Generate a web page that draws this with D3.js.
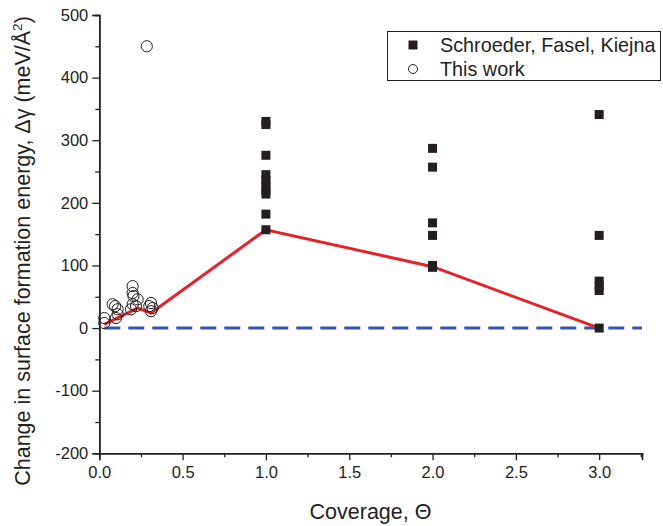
<!DOCTYPE html>
<html><head><meta charset="utf-8">
<script src="https://cdn.jsdelivr.net/npm/d3@7"></script>
<style>body{margin:0;background:#fff}svg{display:block}text{font-family:"Liberation Sans",Arial,sans-serif;fill:#231f20}</style>
</head><body><svg id="c" width="663" height="526"></svg>
<script>
// Schroeder, Fasel, Kiejna (filled squares)
const sfkX = [1,1,1,1,1,1,1,1,1,1, 2,2,2,2,2,2, 3,3,3,3,3,3];
const sfkY = [330,325,276,245,236,228,220,214,182,157, 287,257,168,148,100,97, 341,148,75,68,60,0];
// This work (open circles)
const twX = [0.03,0.03,0.08,0.095,0.11,0.11,0.10, 0.2,0.2,0.205,0.23,0.2,0.22,0.19, 0.31,0.3,0.32,0.31, 0.285];
const twY = [16,8,38,35,30,22,16, 67,56,51,46,38,35,30, 40,35,32,27, 450];
// Red line
const lineX = [0.03,0.23,0.31,1,2,3];
const lineY = [6,32,24,157,98,0];
// Axis ticks
const xTicks = [0,0.5,1.0,1.5,2.0,2.5,3.0];
const yTicks = [-200,-100,0,100,200,300,400,500];

const svg = d3.select("#c");
const x = d3.scaleLinear().domain([0,3.257]).range([99.3,642]);
const y = d3.scaleLinear().domain([-200,500]).range([453.3,15]);
const y0 = y(-200), x0 = x(0);

// minor ticks
svg.append("g").attr("transform",`translate(0,${y0})`)
  .call(d3.axisBottom(x).tickValues(d3.range(0.25,3.26,0.5)).tickSize(4).tickFormat(""));
svg.append("g").attr("transform",`translate(0,${y0})`)
  .call(d3.axisBottom(x).tickValues(xTicks).tickSize(7).tickPadding(6).tickFormat(d3.format(".1f")));
svg.append("g").attr("transform",`translate(${x0},0)`)
  .call(d3.axisLeft(y).tickValues(d3.range(-150,500,100)).tickSize(4).tickFormat(""));
svg.append("g").attr("transform",`translate(${x0},0)`)
  .call(d3.axisLeft(y).tickValues(yTicks).tickSize(7).tickPadding(4).tickFormat(d=>String(d)));
svg.selectAll(".domain").attr("stroke","#231f20").attr("stroke-width",1.5);
svg.selectAll(".tick line").attr("stroke","#231f20").attr("stroke-width",1.3);
svg.selectAll(".tick text").style("font-size","16.5px").style("font-family","'Liberation Sans',Arial,sans-serif").attr("fill","#231f20");

// zero dashed line
svg.append("line").attr("x1",x(0.03)).attr("x2",642).attr("y1",y(0)).attr("y2",y(0))
  .attr("stroke","#3553b0").attr("stroke-width",3).attr("stroke-dasharray","16,8");

// red line
const ld = lineX.map((d,i)=>[d,lineY[i]]);
svg.append("path").datum(ld).attr("d",d3.line().x(d=>x(d[0])).y(d=>y(d[1])))
  .attr("fill","none").attr("stroke","#e3222b").attr("stroke-width",3);

// squares
const s = 9;
svg.append("g").selectAll("rect").data(sfkX.map((d,i)=>[d,sfkY[i]])).join("rect")
  .attr("x",d=>x(d[0])-s/2).attr("y",d=>y(d[1])-s/2).attr("width",s).attr("height",s)
  .attr("fill","#231f20");

// circles
svg.append("g").selectAll("circle").data(twX.map((d,i)=>[d,twY[i]])).join("circle")
  .attr("cx",d=>x(d[0])).attr("cy",d=>y(d[1])).attr("r",5.6)
  .attr("fill","none").attr("stroke","#231f20").attr("stroke-width",1);

// legend
const lg = svg.append("g");
lg.append("rect").attr("x",387.5).attr("y",31.5).attr("width",273).attr("height",49)
  .attr("fill","#fff").attr("stroke","#231f20").attr("stroke-width",1);
lg.append("rect").attr("x",413-4.5).attr("y",45-4.5).attr("width",9).attr("height",9).attr("fill","#231f20");
lg.append("circle").attr("cx",413).attr("cy",69).attr("r",4.5).attr("fill","none").attr("stroke","#231f20");
lg.append("text").attr("x",440).attr("y",52).style("font-size","19.8px").text("Schroeder, Fasel, Kiejna");
lg.append("text").attr("x",440).attr("y",76).style("font-size","19.8px").text("This work");

// axis titles
svg.append("text").attr("x",370.5).attr("y",519).attr("text-anchor","middle").style("font-size","21.5px").text("Coverage, Θ");
const yt = svg.append("text").attr("transform","translate(30,251) rotate(-90)").attr("text-anchor","middle").style("font-size","21.5px");
yt.append("tspan").text("Change in surface formation energy, Δγ (meV/Å");
yt.append("tspan").attr("dy",-8).style("font-size","13.5px").text("2");
yt.append("tspan").attr("dy",8).text(")");
</script></body></html>
